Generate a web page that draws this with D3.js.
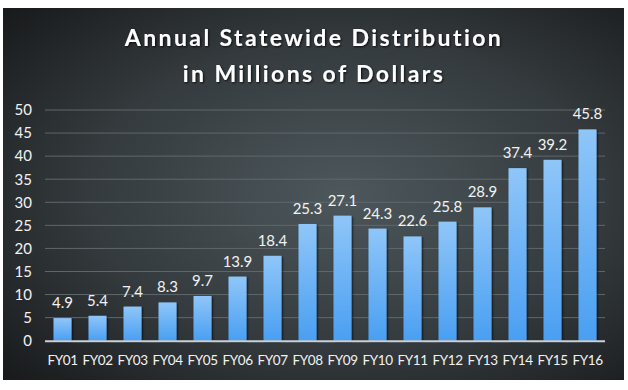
<!DOCTYPE html>
<html><head><meta charset="utf-8">
<script src="https://cdn.jsdelivr.net/npm/d3@7"></script>
<style>
html,body{margin:0;padding:0;background:#fff;}
svg{display:block;}
text{font-family:Lato,"Open Sans",sans-serif;}
</style></head>
<body>
<svg id="chart" width="628" height="390"></svg>
<script>
const categories = ["FY01","FY02","FY03","FY04","FY05","FY06","FY07","FY08","FY09","FY10","FY11","FY12","FY13","FY14","FY15","FY16"];
const values = [4.9,5.4,7.4,8.3,9.7,13.9,18.4,25.3,27.1,24.3,22.6,25.8,28.9,37.4,39.2,45.8];
const yTicks = [0,5,10,15,20,25,30,35,40,45,50];
const titleLines = ["Annual Statewide Distribution","in Millions of Dollars"];

const svg = d3.select("#chart");
const defs = svg.append("defs");
const bg = defs.append("radialGradient").attr("id","bg")
  .attr("cx","0.55").attr("cy","0.5").attr("r","0.75");
bg.append("stop").attr("offset","0%").attr("stop-color","#4d585c");
bg.append("stop").attr("offset","55%").attr("stop-color","#343a3d");
bg.append("stop").attr("offset","100%").attr("stop-color","#17191a");
const bar = defs.append("linearGradient").attr("id","bar").attr("x1",0).attr("y1",0).attr("x2",0).attr("y2",1);
bar.append("stop").attr("offset","0%").attr("stop-color","#8fc6f8");
bar.append("stop").attr("offset","100%").attr("stop-color","#4a9ff2");
const f = defs.append("filter").attr("id","sh").attr("x","-20%").attr("y","-20%").attr("width","140%").attr("height","140%");
f.append("feDropShadow").attr("dx",1).attr("dy",1).attr("stdDeviation",1).attr("flood-color","#000").attr("flood-opacity",0.8);

svg.append("rect").attr("x",3).attr("y",8).attr("width",621).attr("height",372).attr("fill","url(#bg)");

const x = d3.scaleBand().domain(categories).range([45,605]).paddingInner(0.486).paddingOuter(0.243);
const y = d3.scaleLinear().domain([0,50]).range([340.7,110]);

// gridlines
svg.append("g").selectAll("line").data(yTicks.filter(d=>d>0)).join("line")
  .attr("x1",45).attr("x2",605).attr("y1",d=>y(d)).attr("y2",d=>y(d))
  .attr("stroke","#5f686c").attr("stroke-width",1);

// y axis
const yAxis = svg.append("g").attr("transform","translate(32,0)")
  .call(d3.axisLeft(y).tickValues(yTicks).tickSize(0).tickPadding(0));
yAxis.select(".domain").remove();
yAxis.selectAll("text").attr("fill","#f2f2f2").attr("font-size",15).attr("font-family","Lato,sans-serif");

// bars
svg.append("g").selectAll("rect").data(values).join("rect")
  .attr("x",(d,i)=>x(categories[i])).attr("width",x.bandwidth())
  .attr("y",d=>y(d)).attr("height",d=>y(0)-y(d))
  .attr("fill","url(#bar)").attr("filter","url(#sh)");

// baseline
svg.append("line").attr("x1",45).attr("x2",605).attr("y1",y(0)+0.5).attr("y2",y(0)+0.5)
  .attr("stroke","#c9d1d8").attr("stroke-width",2);

// value labels
svg.append("g").selectAll("text").data(values).join("text")
  .attr("x",(d,i)=>x(categories[i])+x.bandwidth()/2).attr("y",d=>y(d)-10)
  .attr("text-anchor","middle").attr("fill","#f2f2f2").attr("font-size",15)
  .text(d=>d.toFixed(1));

// x axis
const xAxis = svg.append("g").attr("transform","translate(0,355)")
  .call(d3.axisBottom(x).tickSize(0).tickPadding(0));
xAxis.select(".domain").remove();
xAxis.selectAll("text").attr("fill","#f2f2f2").attr("font-size",13.5)
  .attr("letter-spacing","-0.4px").attr("font-family","Lato,sans-serif");

// title
svg.append("g").selectAll("text").data(titleLines).join("text")
  .attr("x",314).attr("y",(d,i)=>46+i*35.5).attr("text-anchor","middle")
  .attr("fill","#ffffff").attr("font-size",23).attr("font-weight","bold")
  .attr("letter-spacing","2.4px").attr("filter","url(#sh)")
  .text(d=>d);
</script>
</body></html>
